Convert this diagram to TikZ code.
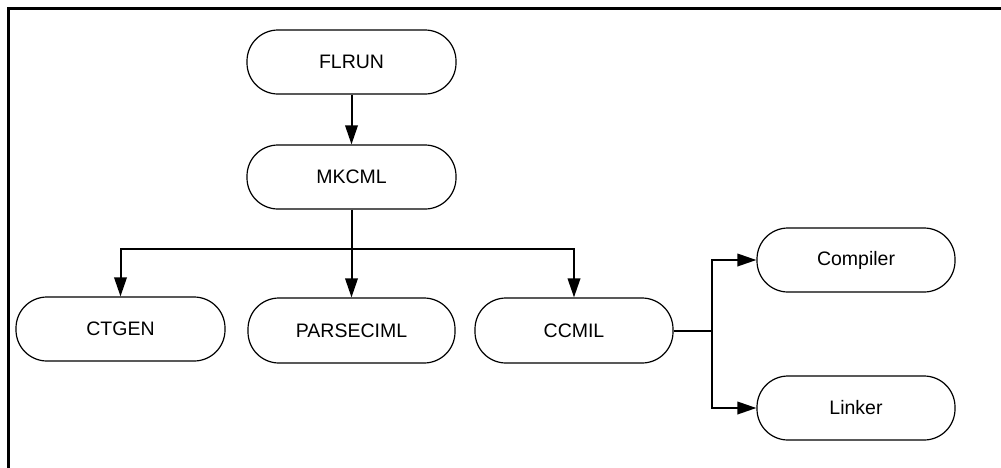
\documentclass[tikz,border=0pt]{standalone}
\usepackage{fontspec}
\setmainfont{Liberation Sans}
\usetikzlibrary{arrows.meta}
\begin{document}
\begin{tikzpicture}[x=1pt,y=-1pt,
  proc/.style={draw, line width=1.2pt, rounded corners=31pt, minimum height=64pt,
    inner sep=0pt, font=\fontsize{19.5}{22}\selectfont},
  conn/.style={line width=2pt},
  arr/.style={conn, -{Triangle[length=19pt,width=12.5pt]}}]
\useasboundingbox (0,0) rectangle (1001,467);
\draw[line width=2.5pt] (8.5,470) -- (8.5,8.5) -- (1005,8.5);
\node[proc, minimum width=209pt] (FLRUN) at (351.5,62) {FLRUN};
\node[proc, minimum width=209pt] (MKCML) at (351.5,177) {MKCML};
\node[proc, minimum width=209pt] (CTGEN) at (120.5,329) {CTGEN};
\node[proc, minimum width=207pt, minimum height=65pt] (PARSECIML) at (351.5,330.5) {PARSECIML};
\node[proc, minimum width=198pt, minimum height=65pt] (CCMIL) at (574,330.5) {CCMIL};
\node[proc, minimum width=198pt] (Compiler) at (856,260) {Compiler};
\node[proc, minimum width=198pt] (Linker) at (856,408) {Linker};
\coordinate (bus) at (351.5,249);
\coordinate (br) at (712,330.5);
\draw[arr] (FLRUN) -- (MKCML);
\draw[arr] (MKCML.south) -- (PARSECIML.north);
\draw[arr] (bus) -| (CTGEN.north);
\draw[arr] (bus) -| (CCMIL.north);
\draw[conn] (CCMIL.east) -- (br);
\draw[arr] (br) |- (Compiler.west);
\draw[arr] (br) |- (Linker.west);
\end{tikzpicture}
\end{document}
